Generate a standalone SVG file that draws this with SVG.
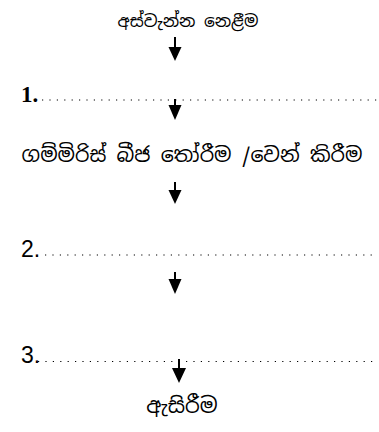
<svg xmlns="http://www.w3.org/2000/svg" width="379" height="432" viewBox="0 0 379 432">
  <style>
    .si { font-family: "Noto Sans Sinhala", "Noto Serif Sinhala", "Iskoola Pota", "DejaVu Sans", sans-serif; fill: #000; text-anchor: middle; }
    .num1 { font-family: "Liberation Serif", serif; font-size: 23px; font-weight: bold; fill: #000; }
    .num { font-family: "Liberation Sans", sans-serif; font-size: 23px; fill: #000; }
    .dots { stroke: #000; stroke-width: 1.2; stroke-dasharray: 1.2 6.2; fill: none; }
    .shaft { stroke: #000; stroke-width: 2; fill: none; }
    .head { fill: #000; }
  </style>

  <!-- steps -->
  <g id="harvest">
    <text class="si" x="188" y="27" font-size="17">අස්වැන්න නෙළීම</text>
  </g>
  <g id="step1">
    <text class="num1" x="21" y="102">1.</text>
    <line class="dots" x1="42" y1="100" x2="378" y2="100"/>
  </g>
  <g id="select-seeds">
    <text class="si" x="192" y="162" font-size="20.5">ගම්මිරිස් බීජ තෝරීම /වෙන් කිරීම</text>
  </g>
  <g id="step2">
    <text class="num" x="21" y="257">2.</text>
    <line class="dots" x1="45" y1="255" x2="378" y2="255"/>
  </g>
  <g id="step3">
    <text class="num" x="21" y="363">3.</text>
    <line class="dots" x1="38" y1="361.5" x2="378" y2="361.5"/>
  </g>
  <g id="packing">
    <text class="si" x="182" y="413" font-size="21">ඇසිරීම</text>
  </g>

  <!-- connectors -->
  <g id="connectors">
    <line class="shaft" x1="175" y1="37" x2="175" y2="49"/>
    <polygon class="head" points="168.5,47 181.5,47 175,61"/>

    <line class="shaft" x1="175" y1="99" x2="175" y2="107"/>
    <polygon class="head" points="168.5,105 181.5,105 175,120"/>

    <line class="shaft" x1="175" y1="182" x2="175" y2="192"/>
    <polygon class="head" points="168.5,190 181.5,190 175,204"/>

    <line class="shaft" x1="175" y1="272" x2="175" y2="281"/>
    <polygon class="head" points="168.5,279 181.5,279 175,294"/>

    <line class="shaft" x1="179" y1="359" x2="179" y2="370"/>
    <polygon class="head" points="172,368 186,368 179,383"/>
  </g>
</svg>
